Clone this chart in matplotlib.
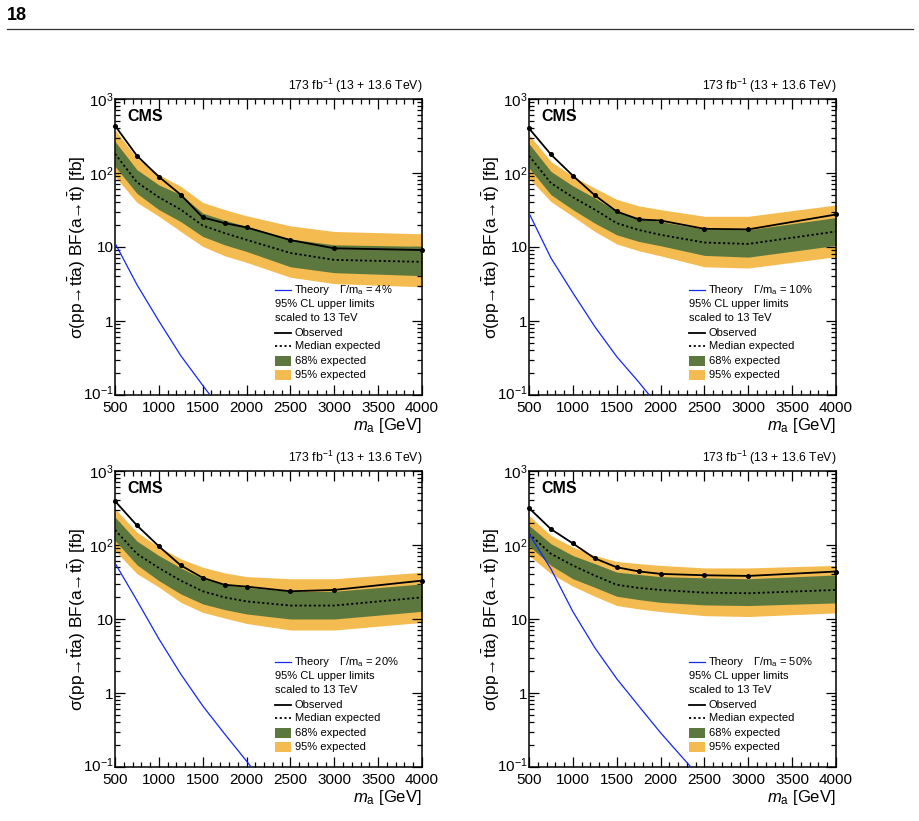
import numpy as np
import matplotlib
matplotlib.use("Agg")
import matplotlib.pyplot as plt
from matplotlib.ticker import FixedLocator, NullFormatter
from matplotlib.patches import Rectangle
from matplotlib.lines import Line2D
import matplotlib.transforms as mtrans

plt.rcParams['font.family'] = ['Liberation Sans', 'DejaVu Sans']
plt.rcParams['mathtext.fontset'] = 'custom'
plt.rcParams['mathtext.rm'] = 'Liberation Sans'
plt.rcParams['mathtext.it'] = 'Liberation Sans:italic'
plt.rcParams['mathtext.bf'] = 'Liberation Sans:bold'
plt.rcParams['mathtext.cal'] = 'Liberation Serif'

# ---------------- data ----------------
mass = [500, 750, 1000, 1250, 1500, 1750, 2000, 2500, 3000, 4000]

obs_4 = [436, 171, 89, 50.8, 25.1, 21, 18.4, 12.4, 9.6, 9.1]
exp_4 = [182, 75, 47, 32, 19.5, 15.4, 12.5, 8.3, 6.7, 6.3]
lo68_4 = [123, 53, 32, 22, 13.9, 10.7, 8.7, 5.4, 4.5, 4.1]
hi68_4 = [267, 111, 69, 51, 28.7, 23, 19, 12.8, 10.7, 10.2]
lo95_4 = [90, 40, 26, 16.2, 10.2, 7.6, 6.2, 3.9, 3.2, 2.9]
hi95_4 = [385, 159, 95, 66, 40, 32, 26.4, 19.3, 16.2, 15.1]
theo_4 = [11.3, 3.1, 1.0, 0.34, 0.135, 0.055]

obs_10 = [401, 178, 92, 50, 30.2, 23.6, 22.8, 17.6, 17.3, 27.5]
exp_10 = [171, 73, 47, 32, 21, 17, 14.6, 11.5, 11, 16.2]
lo68_10 = [117, 51, 32, 21, 14.6, 11.9, 10.4, 7.7, 7.3, 10.5]
hi68_10 = [249, 105, 67, 46, 30, 25, 22, 17.4, 17.1, 25]
lo95_10 = [85, 41, 26, 16.2, 11, 8.9, 7.6, 5.4, 5.2, 7.4]
hi95_10 = [329, 143, 90, 62.5, 44, 36, 32, 26, 26, 37]
theo_10 = [28.7, 7.1, 2.4, 0.84, 0.33, 0.15, 0.065]

obs_20 = [392, 184, 96, 53, 36, 29, 27.4, 23.7, 24.7, 33]
exp_20 = [160, 76, 49, 33, 23.7, 19.6, 17.3, 15.2, 15.2, 19.6]
lo68_20 = [115, 54, 33, 21.8, 16, 13.4, 11.7, 10, 10, 12.7]
hi68_20 = [238, 113, 72, 49, 35, 29, 26.8, 23.7, 23.7, 29.8]
lo95_20 = [84, 41, 27, 16.8, 12.3, 10.3, 8.7, 7.1, 7.1, 9.0]
hi95_20 = [309, 149, 94, 65, 50, 42, 37.4, 35, 35, 42.8]
theo_20 = [57, 17.8, 5.4, 1.8, 0.67, 0.28, 0.12, 0.021]

obs_50 = [316, 164, 105, 66, 50, 44, 40.7, 39, 38.2, 43.8]
exp_50 = [142, 76, 53, 38.6, 29, 26.3, 24.7, 22.7, 22.3, 24.7]
lo68_50 = [98, 53, 35, 26.8, 20.3, 18.3, 16.8, 15.5, 15.2, 16.5]
hi68_50 = [184, 104, 72, 56, 43, 40, 37.4, 36, 35, 39.4]
lo95_50 = [72, 41, 27.7, 20.3, 15.2, 13.7, 12.6, 11.1, 10.8, 12.1]
hi95_50 = [251, 134, 94, 72, 60, 56, 53, 49, 49, 53]
theo_50 = [142, 47.5, 12.6, 4.1, 1.56, 0.67, 0.29, 0.062]

panels = [
    ("4%", obs_4, exp_4, lo68_4, hi68_4, lo95_4, hi95_4, theo_4),
    ("10%", obs_10, exp_10, lo68_10, hi68_10, lo95_10, hi95_10, theo_10),
    ("20%", obs_20, exp_20, lo68_20, hi68_20, lo95_20, hi95_20, theo_20),
    ("50%", obs_50, exp_50, lo68_50, hi68_50, lo95_50, hi95_50, theo_50),
]

ytick_vals = [0.1, 1, 10, 100, 1000]
ytick_labels = [r'$10^{-1}$', '1', '10', r'$10^{2}$', r'$10^{3}$']
xtick_vals = [500, 1000, 1500, 2000, 2500, 3000, 3500, 4000]

C68 = '#5C783E'
C95 = '#F4BB50'
CTH = '#1428F0'

W, H = 920, 821
fig = plt.figure(figsize=(W / 100, H / 100), dpi=100)

# page header
fig.text(7 / W, 1 - 15 / H, '18', fontsize=13, fontweight='bold', ha='left', va='center')
fig.add_artist(Line2D([7 / W, 913 / W], [1 - 29.5 / H, 1 - 29.5 / H], color='#333333', lw=0.9))

pos = [(115, 99), (529, 99), (115, 471), (529, 471)]
aw, ah = 307, 296

ylab = u'\u03c3(pp\u2192t$\\bar{\\rm t}$a) BF(a\u2192t$\\bar{\\rm t}$) [fb]'

for (px, py), (wlab, obs, exp_, lo68, hi68, lo95, hi95, theo) in zip(pos, panels):
    ax = fig.add_axes([px / W, 1 - (py + ah) / H, aw / W, ah / H])
    ax.set_yscale('log')
    ax.set_xlim(500, 4000)
    ax.set_ylim(0.1, 1000)

    ax.fill_between(mass, lo95, hi95, color=C95, lw=0, zorder=1)
    ax.fill_between(mass, lo68, hi68, color=C68, lw=0, zorder=2)
    ax.plot(mass, exp_, color='black', ls=(0, (1.2, 1.4)), lw=1.3, zorder=3)
    ax.plot(mass, obs, color='black', lw=1.3, marker='o', ms=2.6, zorder=4, clip_on=False)
    ax.plot(mass[:len(theo)], theo, color=CTH, lw=0.9, zorder=3)

    ax.xaxis.set_major_locator(FixedLocator(xtick_vals))
    ax.xaxis.set_minor_locator(FixedLocator(np.arange(500, 4001, 100)))
    ax.set_xticklabels([str(v) for v in xtick_vals])
    ax.yaxis.set_major_locator(FixedLocator(ytick_vals))
    minors = [m * 10.0 ** e for e in range(-1, 3) for m in range(2, 10)]
    ax.yaxis.set_minor_locator(FixedLocator(minors))
    ax.yaxis.set_minor_formatter(NullFormatter())
    ax.set_yticklabels(ytick_labels)
    ax.tick_params(which='both', direction='in', top=True, right=True, labelsize=11, width=0.9)
    ax.tick_params(which='major', length=7)
    ax.tick_params(which='minor', length=3.5)
    ax.tick_params(axis='y', pad=1)
    ax.tick_params(axis='x', pad=4)
    # nudge the lowest y label up slightly
    lbl = ax.get_yticklabels()[0]
    lbl.set_transform(lbl.get_transform() + mtrans.ScaledTranslation(0, 3 / 100, fig.dpi_scale_trans))
    for s in ax.spines.values():
        s.set_linewidth(1.1)

    ax.set_ylabel(ylab, fontsize=12.5, labelpad=-3.5)
    ax.set_xlabel(r'$m_{\rm a}$ [GeV]', fontsize=12, loc='right', labelpad=1)

    ax.text(1.0, 1.012, r'173 fb$^{-1}$ (13 + 13.6 TeV)', transform=ax.transAxes,
            ha='right', va='bottom', fontsize=8.8)
    ax.text(0.04, 0.94, 'CMS', transform=ax.transAxes, ha='left', va='center',
            fontsize=11.5, fontweight='bold')

    # legend
    hx0, hx1, tx = 0.521, 0.573, 0.586
    rows = [0.355, 0.306, 0.259, 0.211, 0.164, 0.115, 0.068]
    fs = 8
    ax.add_line(Line2D([hx0, hx1], [rows[0]] * 2, transform=ax.transAxes, color=CTH, lw=0.9))
    ax.text(tx, rows[0], 'Theory', transform=ax.transAxes, va='center', fontsize=fs)
    ax.text(0.73, rows[0], u'\u0393/m$_{\\rm a}$ = ' + wlab,
            transform=ax.transAxes, va='center', fontsize=fs)
    ax.text(hx0, rows[1], '95% CL upper limits', transform=ax.transAxes, va='center', fontsize=fs)
    ax.text(hx0, rows[2], 'scaled to 13 TeV', transform=ax.transAxes, va='center', fontsize=fs)
    ax.add_line(Line2D([hx0, hx1], [rows[3]] * 2, transform=ax.transAxes, color='black', lw=1.3))
    ax.text(tx, rows[3], 'Observed', transform=ax.transAxes, va='center', fontsize=fs)
    ax.add_line(Line2D([hx0, hx1], [rows[4]] * 2, transform=ax.transAxes, color='black', lw=1.3,
                       ls=(0, (1.2, 1.4))))
    ax.text(tx, rows[4], 'Median expected', transform=ax.transAxes, va='center', fontsize=fs)
    ph = 0.036
    ax.add_patch(Rectangle((hx0, rows[5] - ph / 2), hx1 - hx0, ph, transform=ax.transAxes,
                           color=C68, lw=0))
    ax.text(tx, rows[5], '68% expected', transform=ax.transAxes, va='center', fontsize=fs)
    ax.add_patch(Rectangle((hx0, rows[6] - ph / 2), hx1 - hx0, ph, transform=ax.transAxes,
                           color=C95, lw=0))
    ax.text(tx, rows[6], '95% expected', transform=ax.transAxes, va='center', fontsize=fs)

fig.savefig('out.png', dpi=100)
